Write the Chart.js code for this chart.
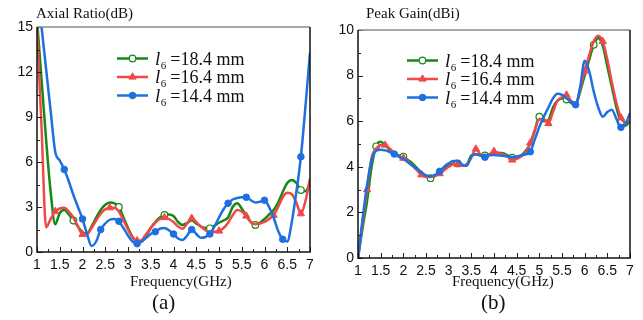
<!DOCTYPE html>
<html>
<head>
<meta charset="utf-8">
<script src="https://cdn.jsdelivr.net/npm/chart.js@4"></script>
<style>
  body { margin: 0; background: #fff; }
  #wrap { position: relative; width: 643px; height: 320px; overflow: hidden; background: #fff; }
  #wrap canvas { position: absolute; top: 0; }
  .lbl { position: absolute; font-family: "Liberation Serif", "Times New Roman", serif; color: #111; white-space: nowrap; line-height: 1; }
</style>
</head>
<body>
<div id="wrap">
  <canvas id="arChart" width="320" height="320" style="left:0"></canvas>
  <canvas id="gainChart" width="323" height="320" style="left:320px"></canvas>
  <div class="lbl" style="left:36px;top:6px;font-size:15px">Axial Ratio(dB)</div>
  <div class="lbl" style="left:366px;top:6px;font-size:15px">Peak Gain(dBi)</div>
  <div class="lbl" style="left:130px;top:274px;font-size:15px">Frequency(GHz)</div>
  <div class="lbl" style="left:452px;top:274px;font-size:15px">Frequency(GHz)</div>
  <div class="lbl" style="left:152px;top:292px;font-size:21px">(a)</div>
  <div class="lbl" style="left:481px;top:292px;font-size:21px">(b)</div>
</div>
<script>
// frequency grid, GHz
const freq = [1.0, 1.1, 1.2, 1.3, 1.4, 1.5, 1.6, 1.7, 1.8, 1.9,
              2.0, 2.1, 2.2, 2.3, 2.4, 2.5, 2.6, 2.7, 2.8, 2.9,
              3.0, 3.1, 3.2, 3.3, 3.4, 3.5, 3.6, 3.7, 3.8, 3.9,
              4.0, 4.1, 4.2, 4.3, 4.4, 4.5, 4.6, 4.7, 4.8, 4.9,
              5.0, 5.1, 5.2, 5.3, 5.4, 5.5, 5.6, 5.7, 5.8, 5.9,
              6.0, 6.1, 6.2, 6.3, 6.4, 6.5, 6.6, 6.7, 6.8, 6.9, 7.0];

const labels = ["18.4 mm", "16.4 mm", "14.4 mm"];

// axial ratio (dB)
const ar184 = [15.5, 11.5, 7.5, 4.0, 1.85, 2.6, 2.8, 2.5, 2.1, 1.7,
               1.3, 1.25, 1.7, 2.3, 2.8, 3.15, 3.3, 3.25, 3.0, 2.3,
               1.6, 1.0, 0.7, 0.7, 1.1, 1.6, 2.0, 2.3, 2.47, 2.5,
               2.4, 2.0, 1.8, 1.95, 2.1, 1.9, 1.7, 1.6, 1.58, 1.75,
               1.95, 2.1, 2.3, 3.0, 3.25, 2.9, 2.4, 2.0, 1.8, 1.95,
               2.2, 2.5, 2.8, 3.3, 4.0, 4.6, 4.8, 4.6, 4.13, 4.05, 4.6];
const ar164 = [15.0, 8.3, 1.65, 2.2, 2.7, 2.9, 2.95, 2.7, 2.3, 1.7,
               1.18, 1.2, 1.6, 2.1, 2.55, 2.85, 2.95, 2.95, 2.7, 2.1,
               1.5, 1.0, 0.75, 0.8, 1.2, 1.6, 1.95, 2.2, 2.3, 2.2,
               2.0, 1.7, 1.55, 1.9, 2.25, 2.0, 1.7, 1.45, 1.35, 1.35,
               1.4, 1.6, 1.95, 2.45, 2.8, 2.7, 2.4, 2.0, 1.85, 1.9,
               2.0, 2.2, 2.45, 3.0, 3.65, 3.95, 3.85, 3.3, 2.55, 3.4, 4.9];
const ar144 = [17.8, 15.0, 12.2, 9.4, 6.7, 6.1, 5.5, 4.7, 3.8, 3.0,
               2.2, 1.2, 0.4, 0.7, 1.5, 1.9, 2.15, 2.2, 2.05, 1.6,
               1.1, 0.7, 0.55, 0.7, 0.95, 1.2, 1.35, 1.55, 1.6, 1.45,
               1.2, 0.9, 0.8, 1.1, 1.5, 1.2, 0.95, 1.0, 1.2, 1.7,
               2.3, 2.85, 3.25, 3.5, 3.6, 3.65, 3.65, 3.45, 3.3, 3.35,
               3.45, 3.0, 2.3, 1.4, 0.85, 0.7, 2.0, 4.0, 6.35, 9.7, 13.3];

// peak gain (dBi)
const pg184 = [0, 1.3, 2.5, 4.0, 4.9, 5.1, 4.95, 4.75, 4.6, 4.5,
               4.45, 4.3, 4.15, 3.95, 3.75, 3.6, 3.5, 3.6, 3.75, 3.9,
               4.05, 4.15, 4.15, 4.05, 4.1, 4.5, 4.55, 4.5, 4.5, 4.55,
               4.6, 4.62, 4.6, 4.5, 4.4, 4.4, 4.5, 4.7, 5.0, 5.6,
               6.2, 6.0, 6.05, 6.6, 6.9, 7.0, 6.95, 6.8, 6.7, 7.3,
               8.0, 8.7, 9.35, 9.65, 9.3, 8.4, 7.5, 6.6, 5.95, 5.8, 6.0];
const pg164 = [0, 1.5, 3.0, 4.4, 4.8, 4.95, 4.95, 4.8, 4.6, 4.45,
               4.38, 4.25, 4.05, 3.85, 3.65, 3.55, 3.55, 3.6, 3.7, 3.85,
               4.0, 4.1, 4.1, 4.05, 4.1, 4.4, 4.78, 4.55, 4.45, 4.55,
               4.68, 4.6, 4.55, 4.45, 4.3, 4.35, 4.45, 4.65, 5.05, 5.6,
               6.1, 6.1, 5.9, 6.4, 6.9, 7.05, 7.15, 6.9, 6.8, 7.4,
               8.2, 8.9, 9.5, 9.75, 9.5, 8.7, 7.7, 6.8, 6.15, 5.95, 6.05];
const pg144 = [0, 1.7, 3.2, 4.3, 4.7, 4.75, 4.72, 4.65, 4.56, 4.45,
               4.35, 4.2, 4.05, 3.9, 3.75, 3.62, 3.58, 3.65, 3.8, 4.0,
               4.15, 4.25, 4.25, 4.1, 4.05, 4.45, 4.55, 4.5, 4.42, 4.5,
               4.52, 4.5, 4.48, 4.45, 4.42, 4.45, 4.5, 4.55, 4.66, 5.2,
               5.75, 6.2, 6.6, 7.0, 7.2, 7.15, 7.0, 6.85, 6.72, 7.5,
               8.65, 8.2, 7.3, 6.6, 6.2, 6.4, 6.5, 6.1, 5.73, 5.9, 6.35];

// frequencies that carry a marker
const arMarks184 = [1.8, 2.8, 3.8, 4.8, 5.8, 6.8];
const arMarks164 = [1.4, 2.0, 2.6, 3.2, 3.8, 4.4, 5.0, 5.6, 6.2, 6.8];
const arMarks144 = [1.6, 2.0, 2.4, 2.8, 3.2, 3.6, 4.0, 4.4, 4.8, 5.2, 5.6, 6.0, 6.4, 6.8];
const pgMarks184 = [1.4, 2.0, 2.6, 3.2, 3.8, 4.4, 5.0, 5.6, 6.2, 6.8];
const pgMarks164 = [1.2, 1.6, 2.0, 2.4, 2.8, 3.2, 3.6, 4.0, 4.4, 4.8, 5.2, 5.6, 6.0, 6.4, 6.8];
const pgMarks144 = [1.8, 2.8, 3.8, 4.8, 5.8, 6.8];

const arTicks = [0, 3, 6, 9, 12, 15];
const pgTicks = [0, 2, 4, 6, 8, 10];

const GREEN = "#138a13";
const RED = "#f04848";
const BLUE = "#1f6fe0";

function pts(ys) {
  return ys.map((y, i) => ({ x: freq[i], y }));
}

function radiusAt(marks, r) {
  return ctx => marks.some(m => Math.abs(m - freq[ctx.dataIndex]) < 1e-6) ? r : 0;
}

function series(ys, marks, color, style, order) {
  const open = style === "openCircle";
  return {
    data: pts(ys),
    borderColor: color,
    backgroundColor: open ? "#fff" : color,
    borderWidth: 2.5,
    pointStyle: style === "triangle" ? "triangle" : "circle",
    pointRadius: radiusAt(marks, style === "triangle" ? 4.2 : 3.3),
    pointBorderWidth: open ? 1.2 : 1,
    pointBorderColor: color,
    pointBackgroundColor: open ? "#fff" : color,
    cubicInterpolationMode: "monotone",
    order
  };
}

// inward ticks + frame box
const frameTicks = {
  id: "frameTicks",
  afterDraw(chart, args, opts) {
    const { ctx, chartArea: a, scales: { x, y } } = chart;
    ctx.save();
    ctx.strokeStyle = "#222";
    ctx.lineWidth = 1;
    for (let v = x.min; v <= x.max + 1e-9; v += 0.25) {
      const px = Math.round(x.getPixelForValue(v)) + 0.5;
      const len = Math.abs(v * 2 - Math.round(v * 2)) < 1e-6 ? 5 : 3;
      ctx.beginPath();
      ctx.moveTo(px, a.bottom);
      ctx.lineTo(px, a.bottom - len);
      ctx.stroke();
    }
    for (let v = y.min; v <= y.max + 1e-9; v += opts.yMinor) {
      const py = Math.round(y.getPixelForValue(v)) + 0.5;
      const major = Math.abs(v / (opts.yMinor * 2) - Math.round(v / (opts.yMinor * 2))) < 1e-6;
      ctx.beginPath();
      ctx.moveTo(a.left, py);
      ctx.lineTo(a.left + (major ? 5 : 3), py);
      ctx.stroke();
    }
    ctx.lineWidth = 1.5;
    ctx.strokeStyle = "#8a8a8a";
    ctx.beginPath();
    ctx.moveTo(a.left, a.top);
    ctx.lineTo(a.right, a.top);
    ctx.stroke();
    ctx.strokeStyle = "#111";
    ctx.beginPath();
    ctx.moveTo(a.right, a.top);
    ctx.lineTo(a.right, a.bottom);
    ctx.lineTo(a.left, a.bottom);
    ctx.lineTo(a.left, a.top);
    ctx.stroke();
    ctx.restore();
  }
};

// legend with the l6 subscript
const subLegend = {
  id: "subLegend",
  afterDraw(chart, args, opts) {
    const { ctx } = chart;
    ctx.save();
    chart.data.datasets.forEach((ds, i) => {
      const yy = opts.y + i * opts.dy;
      ctx.strokeStyle = ds.borderColor;
      ctx.lineWidth = 2.5;
      ctx.beginPath();
      ctx.moveTo(opts.x, yy);
      ctx.lineTo(opts.x + 31, yy);
      ctx.stroke();
      ctx.fillStyle = ds.pointBackgroundColor;
      ctx.strokeStyle = ds.borderColor;
      ctx.lineWidth = ds.pointBorderWidth;
      Chart.helpers.drawPoint(ctx, {
        pointStyle: ds.pointStyle,
        radius: ds.pointStyle === "triangle" ? 4.2 : 3.3,
        borderWidth: ds.pointBorderWidth,
        rotation: 0
      }, opts.x + 15.5, yy);

      ctx.fillStyle = "#111";
      ctx.textBaseline = "alphabetic";
      let tx = opts.x + 38;
      ctx.font = "italic 19px 'Liberation Serif'";
      ctx.fillText("l", tx, yy + 6);
      tx += ctx.measureText("l").width + 0.5;
      ctx.font = "11px 'Liberation Serif'";
      ctx.fillText("6", tx, yy + 10);
      tx += ctx.measureText("6").width + 4;
      ctx.font = "18px 'Liberation Serif'";
      ctx.fillText("=" + labels[i], tx, yy + 6);
    });
    ctx.restore();
  }
};

function makeChart(id, sets, yMax, yTicks, yMinor, pad, yWidth, xHeight, legendPos) {
  return new Chart(document.getElementById(id), {
    type: "line",
    data: { datasets: sets },
    plugins: [frameTicks, subLegend],
    options: {
      responsive: false,
      animation: false,
      devicePixelRatio: 1,
      layout: { padding: pad },
      plugins: {
        legend: { display: false },
        tooltip: { enabled: false },
        frameTicks: { yMinor },
        subLegend: legendPos
      },
      scales: {
        x: {
          type: "linear",
          min: 1,
          max: 7,
          grid: { display: false, drawTicks: false },
          border: { display: false },
          afterFit: s => { s.height = xHeight; },
          ticks: {
            stepSize: 0.5,
            autoSkip: false,
            maxRotation: 0,
            padding: 5,
            color: "#111",
            font: { family: "'Liberation Sans', Arial, sans-serif", size: 14 },
            callback: v => String(Number(v.toFixed(2)))
          }
        },
        y: {
          min: 0,
          max: yMax,
          grid: { display: false, drawTicks: false },
          border: { display: false },
          afterFit: s => { s.width = yWidth; },
          afterBuildTicks: s => { s.ticks = yTicks.map(v => ({ value: v })); },
          ticks: {
            padding: 4,
            color: "#111",
            font: { family: "'Liberation Sans', Arial, sans-serif", size: 14 }
          }
        }
      }
    }
  });
}

makeChart("arChart", [
  series(ar184, arMarks184, GREEN, "openCircle", 3),
  series(ar164, arMarks164, RED, "triangle", 2),
  series(ar144, arMarks144, BLUE, "circle", 1)
], 15, arTicks, 1.5, { top: 27, right: 10, left: 0, bottom: 0 }, 37, 68,
  { x: 117, y: 58.5, dy: 18.5 });

makeChart("gainChart", [
  series(pg184, pgMarks184, GREEN, "openCircle", 3),
  series(pg164, pgMarks164, RED, "triangle", 2),
  series(pg144, pgMarks144, BLUE, "circle", 1)
], 10, pgTicks, 1, { top: 30, right: 13, left: 0, bottom: 0 }, 38, 62,
  { x: 87, y: 60.5, dy: 18.5 });
</script>
</body>
</html>
